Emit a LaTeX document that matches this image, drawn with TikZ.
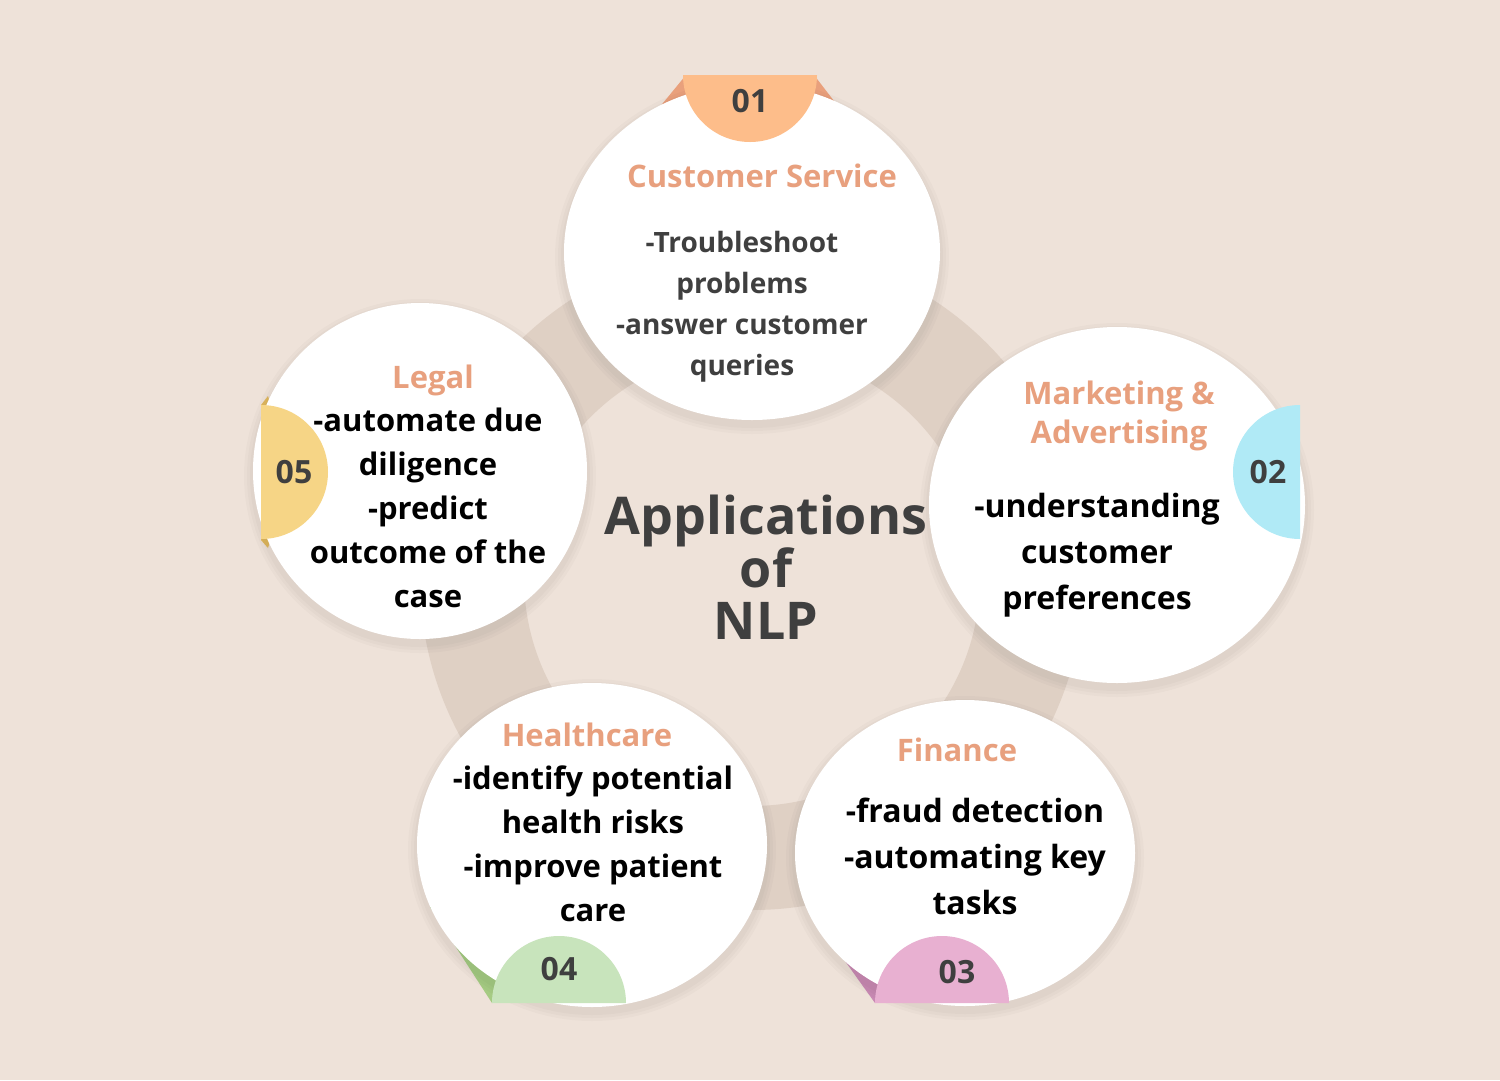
\documentclass[tikz,border=0pt]{standalone}
\usepackage{fontspec}
\setmainfont{Open Sans}
\usetikzlibrary{shapes.geometric}
\definecolor{bg}{HTML}{EEE2D9}
\definecolor{ringc}{HTML}{DFD0C4}
\definecolor{salmon}{HTML}{E8A07E}
\definecolor{dark}{HTML}{3F3F3F}
\definecolor{orangeA}{HTML}{FDBD8A}
\definecolor{orangeB}{HTML}{E9A07C}
\definecolor{blueA}{HTML}{B0EAF6}
\definecolor{pinkA}{HTML}{E8B0D1}
\definecolor{pinkB}{HTML}{C98AB4}
\definecolor{greenA}{HTML}{C8E4BC}
\definecolor{greenB}{HTML}{A6CB83}
\definecolor{yellowA}{HTML}{F6D586}
\definecolor{yellowB}{HTML}{E2B95E}
\newcommand\cardshadow[4]{%
  \foreach \k in {9,6,3}{%
    \fill[black,opacity=0.018] (#1,#2+5) ellipse[x radius=#3+\k, y radius=#4+\k];}}
\begin{document}
\begin{tikzpicture}[x=1pt,y=-1pt,
  card/.style={ellipse, fill=white, inner sep=0pt},
  head/.style={font=\bfseries\fontsize{31}{39}\selectfont, text=salmon, align=center},
  bodyA/.style={font=\bfseries\fontsize{28}{41}\selectfont, text=dark, align=center},
  bodyB/.style={font=\bfseries\fontsize{32}{46}\selectfont, text=black, align=center},
  bodyC/.style={font=\bfseries\fontsize{31}{44}\selectfont, text=black, align=center},
  num/.style={font=\bfseries\fontsize{32}{36}\selectfont, text=dark},
  title/.style={font=\bfseries\fontsize{52}{52}\selectfont, text=dark, align=center},
]
\fill[bg] (0,0) rectangle (1500,1080);
\useasboundingbox (0,0) rectangle (1500,1080);
% ring
\fill[ringc, even odd rule] (752,578) circle[radius=332] (752,578) circle[radius=228];
% badge folds behind cards
\fill[orangeB] (686,75) -- (814,75) -- (844,114) -- (654,114) -- cycle;
\fill[pinkB] (875,1003) -- (845,961) -- (885,945) -- (905,990) -- cycle;
\fill[greenB] (492,1003) -- (430,907) -- (470,885) -- (505,975) -- cycle;
\fill[yellowB] (261,405) -- (268,396) -- (275,420) -- (275,525) -- (268,548) -- (261,540) -- cycle;
% shadows
\cardshadow{752}{252}{188}{168}
\cardshadow{1117}{505}{188}{178}
\cardshadow{965}{853}{170}{153}
\cardshadow{592}{845}{175}{162}
\cardshadow{420}{471}{167}{168}
% cards
\node[card, minimum width=376pt, minimum height=336pt] (cs) at (752,252) {};
\node[card, minimum width=376pt, minimum height=356pt] (mk) at (1117,505) {};
\node[card, minimum width=340pt, minimum height=306pt] (fi) at (965,853) {};
\node[card, minimum width=350pt, minimum height=324pt] (hc) at (592,845) {};
\node[card, minimum width=334pt, minimum height=336pt] (lg) at (420,471) {};
% badges
\fill[orangeA] (683,75) arc[start angle=180, end angle=0, radius=67] -- cycle;
\fill[blueA] (1300,405) arc[start angle=270, end angle=90, radius=67] -- cycle;
\fill[pinkA] (875,1003) arc[start angle=180, end angle=360, radius=67] -- cycle;
\fill[greenA] (492,1003) arc[start angle=180, end angle=360, radius=67] -- cycle;
\fill[yellowA] (261,405) arc[start angle=-90, end angle=90, radius=67] -- cycle;
\node[num] (n1) at (750,101) {01};
\node[num] (n2) at (1268,472) {02};
\node[num] (n3) at (957,972) {03};
\node[num] (n4) at (559,969) {04};
\node[num] (n5) at (294,472) {05};
% texts
\node[head] (csh) at (762,176) {Customer Service};
\node[bodyA] (csb) at (742,307) {-Troubleshoot\\problems\\-answer customer\\queries};
\node[head] (mkh) at (1119,416) {Marketing \&\\Advertising};
\node[bodyB] (mkb) at (1097,555) {-understanding\\customer\\preferences};
\node[head] (fih) at (957,750) {Finance};
\node[bodyB] (fib) at (975,856) {-fraud detection\\-automating key\\tasks};
\node[head] (hch) at (587,735) {Healthcare};
\node[bodyC] (hcb) at (593,844) {-identify potential\\health risks\\-improve patient\\care};
\node[head] (lgh) at (433,380) {Legal};
\node[bodyC] (lgb) at (428,508) {-automate due\\diligence\\-predict\\outcome of the\\case};
\node[title] (t) at (766,567) {Applications\\of\\NLP};
\end{tikzpicture}
\end{document}
